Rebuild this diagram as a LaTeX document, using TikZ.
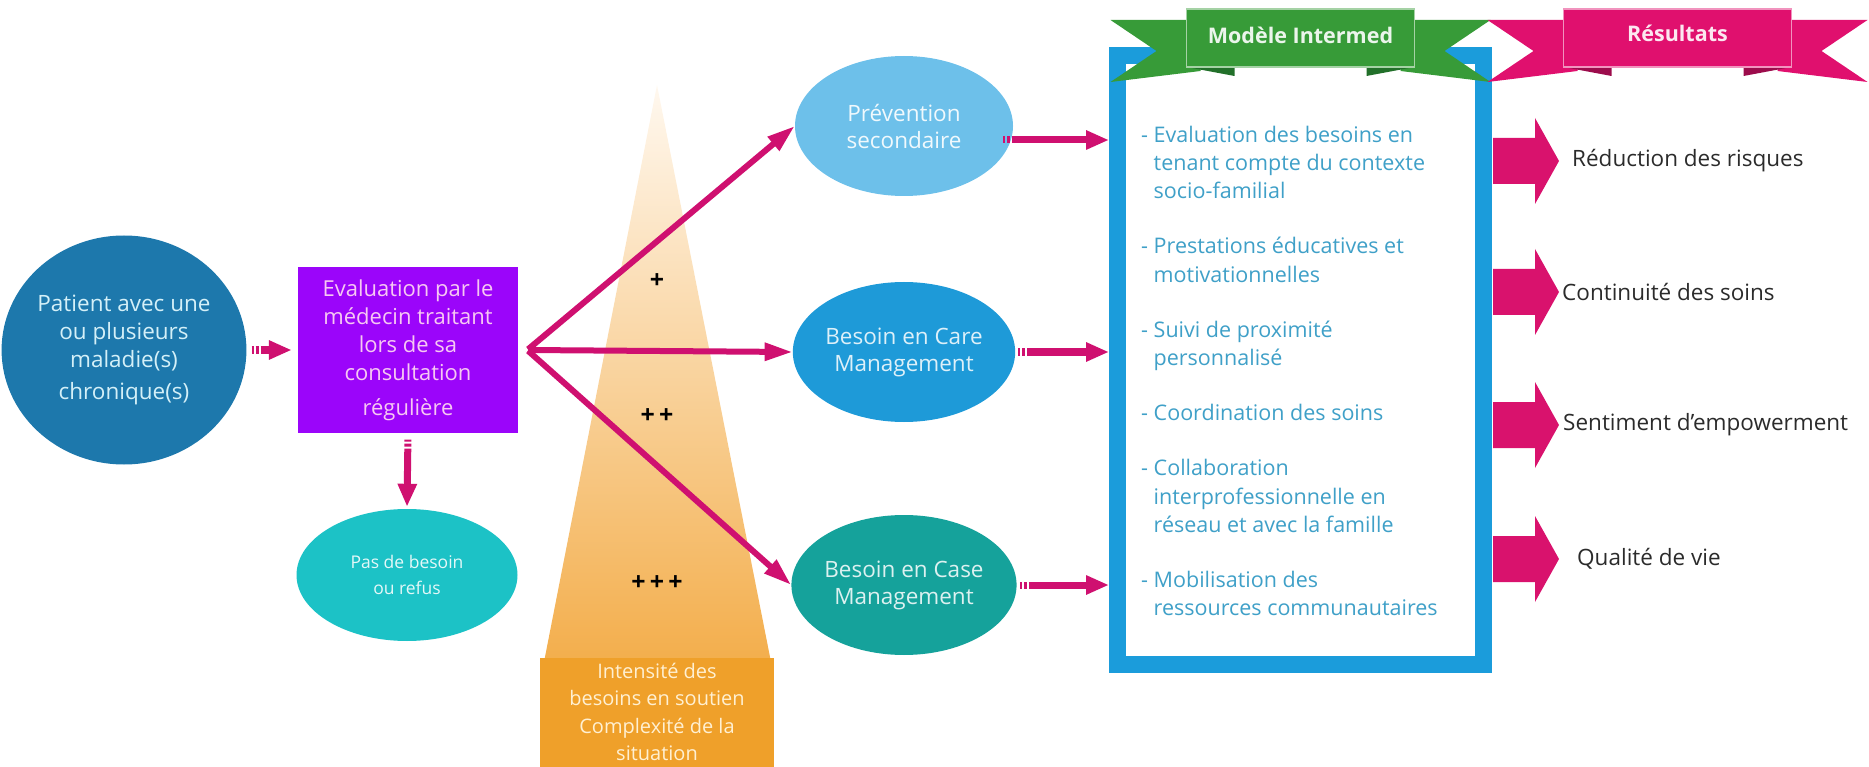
\documentclass[tikz,border=0pt]{standalone}
\usepackage{fontspec}
\setmainfont{Open Sans}
\usetikzlibrary{shapes.geometric,arrows.meta,calc}

\definecolor{patblue}{HTML}{1D78AC}
\definecolor{pattext}{HTML}{D4F0F8}
\definecolor{evalviolet}{HTML}{9B05FA}
\definecolor{evaltext}{HTML}{F7C8F2}
\definecolor{arrowpink}{HTML}{CF1070}
\definecolor{nonecyan}{HTML}{1CC2C6}
\definecolor{prevblue}{HTML}{6DC0EA}
\definecolor{careblue}{HTML}{1E9AD8}
\definecolor{caseteal}{HTML}{15A29B}
\definecolor{frameblue}{HTML}{1B9CDB}
\definecolor{itemblue}{HTML}{3FA0C8}
\definecolor{ribbongreen}{HTML}{379B38}
\definecolor{foldgreen}{HTML}{22702A}
\definecolor{ribbonpink}{HTML}{E0106E}
\definecolor{foldpink}{HTML}{9C0C4C}
\definecolor{resarrow}{HTML}{D9126D}
\definecolor{restext}{HTML}{2B2B2B}
\definecolor{conetop}{HTML}{FFF8EF}
\definecolor{conebottom}{HTML}{F3AE4C}
\definecolor{conebase}{HTML}{EFA02A}
\definecolor{conetext}{HTML}{FFF0D2}

% continuation lines of the list
\newcommand\contline{\phantom{-\ }}

% banner: centre x, face colour, fold colour
\newcommand\ribbon[3]{%
  \fill[#2] (#1-190,20) -- (#1-100,20) -- (#1-100,71) -- (#1-190,82) -- (#1-144,51) -- cycle;
  \fill[#2] (#1+190,20) -- (#1+100,20) -- (#1+100,71) -- (#1+190,82) -- (#1+144,51) -- cycle;
  \fill[#3] (#1-114,67) -- (#1-66,67) -- (#1-66,76) -- cycle;
  \fill[#3] (#1+114,67) -- (#1+66,67) -- (#1+66,76) -- cycle;
  \filldraw[fill=#2, draw=white!55!#2, line width=1.2pt] (#1-114,9) rectangle (#1+114,67);
}

\begin{document}
\begin{tikzpicture}[x=1pt,y=-1pt,
  txt/.style={font=\fontsize{22}{28}\selectfont, align=center, inner sep=0pt},
  bubble/.style={txt, ellipse, font=\fontsize{22.5}{27}\selectfont, minimum width=218pt, minimum height=140pt},
  link/.style={arrowpink, line width=6pt, -{Triangle[length=28pt,width=17pt]}},
  striped/.style={arrowpink, line width=7pt,
    dash pattern=on 2pt off 2pt on 3pt off 2pt on 2000pt,
    -{Triangle[length=23pt,width=18pt]}},
  plus/.style={font=\fontsize{25}{28}\selectfont\bfseries},
  result/.style={font=\fontsize{22.5}{27}\selectfont, text=restext, anchor=west, inner sep=0pt},
  ribbontext/.style={font=\fontsize{21.5}{24}\selectfont\bfseries}
]
\useasboundingbox (0,0) rectangle (1869,767);

% tapered bar behind the branches
\shade[top color=conetop, bottom color=conebottom] (657,85) -- (771,662) -- (544,662) -- cycle;
\fill[conebase] (540,658) rectangle (774,767);
\node[txt, text=conetext, font=\fontsize{20}{27.5}\selectfont] (intensity) at (657,712)
  {Intensité des\\besoins en soutien\\Complexité de la\\situation};

% left part
\node[txt, ellipse, fill=patblue, text=pattext, font=\fontsize{22.5}{28}\selectfont,
  minimum width=227pt, minimum height=229pt]
  (patient) at (124,350) {Patient avec une\\ou plusieurs\\maladie(s)\\[4pt]chronique(s)};
\node[txt, fill=evalviolet, text=evaltext, minimum width=220pt, minimum height=165pt]
  (eval) at (408,350) {Evaluation par le\\médecin traitant\\lors de sa\\consultation\\[7pt]régulière};
\node[bubble, fill=nonecyan, text=white!88!nonecyan, font=\fontsize{17.5}{26}\selectfont,
  minimum width=221pt, minimum height=132pt] (none) at (407,575) {Pas de besoin\\ou refus};

% needs
\node[bubble, fill=prevblue, text=white!90!prevblue] (prev) at (904,126) {Prévention\\secondaire};
\node[bubble, fill=careblue, text=white!85!careblue] (care) at (904,352) {Besoin en Care\\Management};
\node[bubble, fill=caseteal, text=white!85!caseteal] (case) at (904,585) {Besoin en Case\\Management};

% arrows
\draw[striped, shorten <=5pt, shorten >=6pt] (patient.east) -- (eval.west);
\draw[striped, shorten <=7pt, shorten >=2pt] (eval.south) -- (none.north);
\draw[link] ([xshift=9pt]eval.east) -- (prev.west);
\draw[link] ([xshift=9pt]eval.east) -- (care.west);
\draw[link] ([xshift=9pt]eval.east) -- (case.west);
\draw[white, line width=1.5pt] ([xshift=1pt,yshift=6pt]eval.east) -- ([xshift=5pt]eval.east) -- ([xshift=1pt,yshift=-6pt]eval.east);
\draw[white, line width=1.5pt] ([xshift=5pt,yshift=6pt]eval.east) -- ([xshift=9pt]eval.east) -- ([xshift=5pt,yshift=-6pt]eval.east);

\node[plus] (one) at (657,281) {+};
\node[plus] (two) at (657,416) {+\,+};
\node[plus] (three) at (657,583) {+\,+\,+};

% model frame
\node[draw=frameblue, line width=17pt, fill=white, minimum width=366pt, minimum height=609pt, inner sep=0pt]
  (model) at (1300.5,360) {};
\coordinate (pout) at ([xshift=-10pt,yshift=-14pt]prev.east);
\draw[striped] (pout) -- (pout -| model.west);
\draw[striped, shorten <=3pt] (care.east) -- (care.east -| model.west);
\draw[striped, shorten <=3pt] (case.east) -- (case.east -| model.west);

\node[txt, align=left, text=itemblue, font=\fontsize{21.5}{28.2}\selectfont, anchor=west] (items) at (1141,371)
  {- Evaluation des besoins en\\
   \contline tenant compte du contexte\\
   \contline socio-familial\\[27pt]
   - Prestations éducatives et\\
   \contline motivationnelles\\[27pt]
   - Suivi de proximité\\
   \contline personnalisé\\[27pt]
   - Coordination des soins\\[27pt]
   - Collaboration\\
   \contline interprofessionnelle en\\
   \contline réseau et avec la famille\\[27pt]
   - Mobilisation des\\
   \contline ressources communautaires};

% banners
\ribbon{1300.5}{ribbongreen}{foldgreen}
\node[ribbontext, text=white!90!ribbongreen] (modelhead) at (1300.5,35) {Modèle Intermed};
\ribbon{1677.5}{ribbonpink}{foldpink}
\node[ribbontext, text=white!90!ribbonpink] (reshead) at (1677.5,33) {Résultats};

% outcomes
\foreach \y/\x/\txt [count=\i] in {161/1572/{Réduction des risques}, 292/1562/{Continuité des soins},
    425/1563/{Sentiment d’empowerment}, 559/1577/{Qualité de vie}} {
  \fill[resarrow] (1493,\y-23) -- (1535,\y-23) -- (1535,\y-43) -- (1559,\y)
    -- (1535,\y+43) -- (1535,\y+23) -- (1493,\y+23) -- cycle;
  \node[result] (res\i) at (\x,\y) {\txt};
}
\end{tikzpicture}
\end{document}
